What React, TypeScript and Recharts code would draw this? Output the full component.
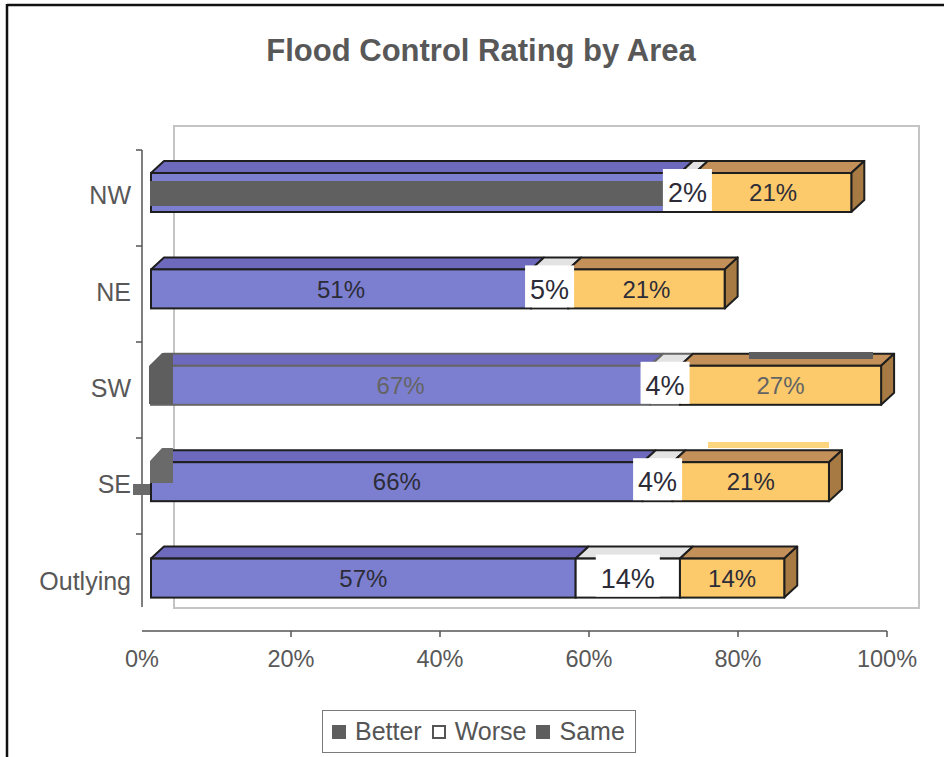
import React from 'react';
import { BarChart, Bar, XAxis, YAxis, LabelList } from 'recharts';

// ---------- data ----------
const areas = ['NW', 'NE', 'SW', 'SE', 'Outlying'];
const better = [71, 51, 67, 66, 57];
const worse = [2, 5, 4, 4, 14];
const same = [21, 21, 27, 21, 14];
const xTicks = [0, 20, 40, 60, 80, 100];
const seriesNames = ['Better', 'Worse', 'Same'];
const maskedAreas = ['NW']; // "Better" label hidden under a dark patch in the scan
const fadedAreas = ['SW']; // row printed in grey in the scan

const data = areas.map((a, i) => ({ area: a, better: better[i], worse: worse[i], same: same[i] }));

// ---------- style ----------
const FONT = '"Liberation Sans", Arial, Helvetica, sans-serif';
const W = 944;
const H = 757;
const PLOT = { left: 142, right: 887, top: 144, bottom: 626 };
const Y_AXIS_W = 130;
const X_AXIS_H = 40;
const DX = 9; // bars' front face offset from the axis floor
const DEPTH_X = 13;
const DEPTH_Y = 12;
const OUTLINE = '#1e1e1e';
const FADED_OUTLINE = '#666666';
const BETTER_FRONT = '#7c7fcf';
const BETTER_TOP = '#6d69bd';
const WORSE_FRONT = '#ffffff';
const WORSE_TOP = '#e3e3e3';
const SAME_FRONT = '#fcca6b';
const SAME_TOP = '#c39059';
const SAME_SIDE = '#a67a42';
const LABEL_COLOR = '#2c2c38';
const FADED_LABEL = '#646464';
const AXIS_TEXT = '#585858';
const LABEL_SIZE = 24;
const WORSE_LABEL_SIZE = 27;

const topFace = (x: number, y: number, w: number) =>
  `${x},${y} ${x + w},${y} ${x + w + DEPTH_X},${y - DEPTH_Y} ${x + DEPTH_X},${y - DEPTH_Y}`;
const sideFace = (x: number, y: number, w: number, h: number) =>
  `${x + w},${y} ${x + w + DEPTH_X},${y - DEPTH_Y} ${x + w + DEPTH_X},${y + h - DEPTH_Y} ${x + w},${y + h}`;

const textWidth = (s: string, size: number) => {
  let w = 0;
  for (const c of s) w += c === '%' ? 0.889 : 0.556;
  return w * size;
};

const outlineOf = (area: string) => (fadedAreas.includes(area) ? FADED_OUTLINE : OUTLINE);

const BetterShape = (p: any) => {
  const x = p.x + DX;
  const { y, width: w, height: h } = p;
  const area = p.payload?.area;
  const masked = maskedAreas.includes(area);
  const ol = outlineOf(area);
  return (
    <g>
      <polygon points={topFace(x, y, w)} fill={BETTER_TOP} stroke={ol} strokeWidth={2} strokeLinejoin="round" />
      <rect x={x} y={y} width={w} height={h} fill={BETTER_FRONT} stroke={ol} strokeWidth={2} />
      {masked && <rect x={x - 1} y={y + 8} width={Math.max(0, w - 12)} height={25} fill="#606060" />}
    </g>
  );
};

const WorseShape = (p: any) => {
  const x = p.x + DX;
  const { y, width: w, height: h } = p;
  const ol = outlineOf(p.payload?.area);
  return (
    <g>
      <polygon points={topFace(x, y, w)} fill={WORSE_TOP} stroke={ol} strokeWidth={2} strokeLinejoin="round" />
      <rect x={x} y={y} width={w} height={h} fill={WORSE_FRONT} stroke={ol} strokeWidth={2} />
    </g>
  );
};

const SameShape = (p: any) => {
  const x = p.x + DX;
  const { y, width: w, height: h } = p;
  const row = p.payload || {};
  const ww = row.same ? (row.worse / row.same) * w : 0;
  const cx = x - ww / 2;
  const txt = `${row.worse}%`;
  const bw = textWidth(txt, WORSE_LABEL_SIZE) + 10;
  return (
    <g>
      <polygon points={topFace(x, y, w)} fill={SAME_TOP} stroke={OUTLINE} strokeWidth={2} strokeLinejoin="round" />
      <polygon points={sideFace(x, y, w, h)} fill={SAME_SIDE} stroke={OUTLINE} strokeWidth={2} strokeLinejoin="round" />
      <rect x={x} y={y} width={w} height={h} fill={SAME_FRONT} stroke={OUTLINE} strokeWidth={2} />
      <rect x={cx - bw / 2} y={y - 4} width={bw} height={h + 3} fill="#ffffff" />
      <text
        x={cx}
        y={y + h / 2 + WORSE_LABEL_SIZE * 0.36}
        textAnchor="middle"
        fontSize={WORSE_LABEL_SIZE}
        fill={LABEL_COLOR}
        fontFamily={FONT}
      >
        {txt}
      </text>
    </g>
  );
};

const makeLabel = (skipMasked: boolean) => (props: any) => {
  const vb = props.viewBox || {};
  const x = (props.x ?? vb.x) + DX;
  const y = props.y ?? vb.y;
  const w = props.width ?? vb.width;
  const h = props.height ?? vb.height;
  const idx = props.index;
  const area = idx != null ? areas[idx] : '';
  if (skipMasked && maskedAreas.includes(area)) return null;
  return (
    <text
      x={x + w / 2}
      y={y + h / 2 + LABEL_SIZE * 0.36}
      textAnchor="middle"
      fontSize={LABEL_SIZE}
      fill={fadedAreas.includes(area) ? FADED_LABEL : LABEL_COLOR}
      fontFamily={FONT}
    >
      {`${props.value}%`}
    </text>
  );
};

const YTick = (p: any) => (
  <text x={131} y={p.y + 3 + 25 * 0.36} textAnchor="end" fontSize={25} fill={AXIS_TEXT} fontFamily={FONT}>
    {p.payload.value}
  </text>
);

const XTick = (p: any) => (
  <g>
    {p.payload.value !== 0 && <line x1={p.x} x2={p.x} y1={631} y2={637} stroke="#555" strokeWidth={1.5} />}
    <text x={p.x} y={659 + 23.5 * 0.36} textAnchor="middle" fontSize={23.5} fill={AXIS_TEXT} fontFamily={FONT}>
      {`${p.payload.value}%`}
    </text>
  </g>
);

const yBoundaryTicks = [150, 246, 342, 438, 534];

export default function App() {
  return (
    <div style={{ position: 'absolute', left: 0, top: 0, width: W, height: H, background: '#fff', overflow: 'hidden', fontFamily: FONT }}>
      <svg width={W} height={H} style={{ position: 'absolute', left: 0, top: 0 }}>
        {/* outer frame */}
        <line x1={7} y1={5} x2={W} y2={5} stroke="#111" strokeWidth={2.5} />
        <line x1={7} y1={4} x2={7} y2={H} stroke="#111" strokeWidth={2.5} />
        {/* title */}
        <text x={481} y={61} textAnchor="middle" fontSize={31} fontWeight="bold" fill="#585858" fontFamily={FONT}>
          Flood Control Rating by Area
        </text>
        {/* back wall */}
        <rect x={174} y={126} width={745} height={482} fill="none" stroke="#c4c4c4" strokeWidth={2} />
        {/* value axis line */}
        <line x1={142} y1={631} x2={887} y2={631} stroke="#555" strokeWidth={1.5} />
        {/* category axis line */}
        <line x1={142} y1={150} x2={142} y2={607} stroke="#555" strokeWidth={1.5} />
        {yBoundaryTicks.map((t) => (
          <line key={t} x1={136} x2={142} y1={t} y2={t} stroke="#555" strokeWidth={1.5} />
        ))}
      </svg>
      <div style={{ position: 'absolute', left: 0, top: 0 }}>
        <BarChart
          width={W}
          height={H}
          data={data}
          layout="vertical"
          margin={{ top: PLOT.top, right: W - PLOT.right, bottom: H - PLOT.bottom - X_AXIS_H, left: PLOT.left - Y_AXIS_W }}
        >
          <XAxis type="number" domain={[0, 100]} ticks={xTicks} height={X_AXIS_H} axisLine={false} tickLine={false} tick={<XTick />} interval={0} />
          <YAxis type="category" dataKey="area" width={Y_AXIS_W} axisLine={false} tickLine={false} tick={<YTick />} interval={0} />
          <Bar dataKey="better" name={seriesNames[0]} stackId="s" barSize={39} shape={<BetterShape />} isAnimationActive={false}>
            <LabelList dataKey="better" content={makeLabel(true)} />
          </Bar>
          <Bar dataKey="worse" name={seriesNames[1]} stackId="s" barSize={39} shape={<WorseShape />} isAnimationActive={false} />
          <Bar dataKey="same" name={seriesNames[2]} stackId="s" barSize={39} shape={<SameShape />} isAnimationActive={false}>
            <LabelList dataKey="same" content={makeLabel(false)} />
          </Bar>
        </BarChart>
      </div>
      {/* scan artifacts (decoration, not data) */}
      <svg width={W} height={H} style={{ position: 'absolute', left: 0, top: 0, pointerEvents: 'none' }}>
        <polygon points="149,366 162,353 173,353 173,404 149,404" fill="#5e5e5e" />
        <rect x={749} y={352} width={124} height={7} fill="#5e5e5e" />
        <polygon points="150,461 162,448 173,448 173,483 150,483" fill="#6a6a6a" />
        <rect x={133} y={484} width={17} height={11} fill="#6a6a6a" />
        <rect x={708} y={442} width={121} height={6} fill="#fcd67f" />
      </svg>
      {/* legend */}
      <div
        style={{
          position: 'absolute',
          left: 322,
          top: 710,
          width: 314,
          height: 43,
          border: '1px solid #7a7a7a',
          boxSizing: 'border-box',
          display: 'flex',
          alignItems: 'center',
          paddingLeft: 9,
          fontSize: 25,
          color: '#555',
          whiteSpace: 'nowrap',
        }}
      >
        {seriesNames.map((n, i) => (
          <span key={n} style={{ display: 'inline-flex', alignItems: 'center', marginRight: 10 }}>
            <span
              style={{
                display: 'inline-block',
                width: 14,
                height: 14,
                boxSizing: 'border-box',
                background: i === 1 ? '#fff' : '#5e5e5e',
                border: i === 1 ? '2px solid #555' : 'none',
                marginRight: 9,
              }}
            />
            {n}
          </span>
        ))}
      </div>
    </div>
  );
}
